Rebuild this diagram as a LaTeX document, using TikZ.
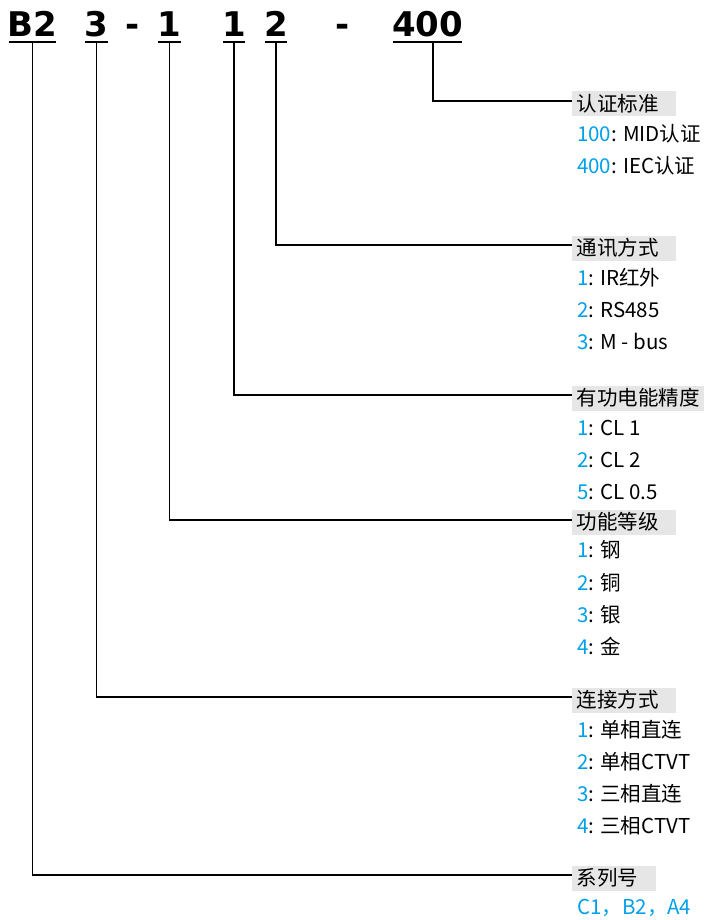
\documentclass[tikz,border=0pt]{standalone}
\usepackage{fontspec}
\newfontfamily\cjk{Noto Sans CJK SC}
\newfontfamily\codefont{DejaVu Sans}
\definecolor{numBlue}{HTML}{00A0E9}
\definecolor{hdrGray}{HTML}{E6E6E6}
\usetikzlibrary{positioning}
\newcommand{\codenum}[1]{\textcolor{numBlue}{#1}}

\begin{document}
\begin{tikzpicture}[x=1pt, y=-1pt,
  node distance=11.7pt,
  code/.style={font=\codefont\bfseries\fontsize{34}{40}\selectfont, anchor=base,
    inner xsep=-1pt, inner ysep=5pt, text depth=0pt},
  hdr/.style={fill=hdrGray, anchor=west, text width=#1, align=left,
    inner xsep=4.5pt, inner ysep=4pt, text height=16pt, text depth=1pt,
    font=\cjk\fontsize{20.5}{24}\selectfont},
  hdr/.default=95pt,
  item/.style={anchor=north west, inner xsep=5pt, inner ysep=0pt,
    text height=17pt, text depth=3pt, font=\cjk\fontsize{20.5}{24}\selectfont},
  link/.style={line width=1.4pt}]
  \useasboundingbox (0,0) rectangle (710,920);
  % type code
  \node[code] (cB2) at (32.5,37) {B2};
  \node[code] (c3) at (96.5,37) {3};
  \node[code] (d1) at (133,37) {-};
  \node[code] (c1a) at (169.5,37) {1};
  \node[code] (c1b) at (234,37) {1};
  \node[code] (c2) at (276,37) {2};
  \node[code] (d2) at (343,37) {-};
  \node[code] (c400) at (427.5,37) {400};
  \foreach \n in {cB2,c3,c1a,c1b,c2,c400}
    \draw[link] (\n.south west) -- (\n.south east);
  % legend
  \node[hdr] (hStd) at (572,104) {认证标准};
  \node[below=7.5pt of hStd.south west, item] (s1) {\codenum{100}: MID认证};
  \node[below=of s1.south west, item] (s2) {\codenum{400}: IEC认证};
  \node[hdr] (hCom) at (572,248) {通讯方式};
  \node[below=7.5pt of hCom.south west, item] (m1) {\codenum{1}: IR红外};
  \node[below=of m1.south west, item] (m2) {\codenum{2}: RS485};
  \node[below=of m2.south west, item] (m3) {\codenum{3}: M - bus};
  \node[hdr=123pt] (hAcc) at (572,398) {有功电能精度};
  \node[below=7.5pt of hAcc.south west, item] (a1) {\codenum{1}: CL 1};
  \node[below=of a1.south west, item] (a2) {\codenum{2}: CL 2};
  \node[below=of a2.south west, item] (a3) {\codenum{5}: CL 0.5};
  \node[hdr] (hFun) at (572,522) {功能等级};
  \node[below=6pt of hFun.south west, item] (f1) {\codenum{1}: 钢};
  \node[below=of f1.south west, item] (f2) {\codenum{2}: 铜};
  \node[below=of f2.south west, item] (f3) {\codenum{3}: 银};
  \node[below=of f3.south west, item] (f4) {\codenum{4}: 金};
  \node[hdr] (hCon) at (572,700) {连接方式};
  \node[below=7.5pt of hCon.south west, item] (k1) {\codenum{1}: 单相直连};
  \node[below=of k1.south west, item] (k2) {\codenum{2}: 单相CTVT};
  \node[below=of k2.south west, item] (k3) {\codenum{3}: 三相直连};
  \node[below=of k3.south west, item] (k4) {\codenum{4}: 三相CTVT};
  \node[hdr=75pt] (hSer) at (572,878) {系列号};
  \node[below=7pt of hSer.south west, item] (r1) {\codenum{C1，B2，A4}};
  % leaders
  \draw[link] ([xshift=5.5pt]c400.south) |- ([yshift=3pt]hStd.west);
  \draw[link] (c2.south) |- ([yshift=3pt]hCom.west);
  \draw[link] (c1b.south) |- ([yshift=3pt]hAcc.west);
  \draw[link] (c1a.south) |- ([yshift=2pt]hFun.west);
  \draw[link] (c3.south) |- ([yshift=3pt]hCon.west);
  \draw[link] (cB2.south) |- ([yshift=3pt]hSer.west);
\end{tikzpicture}
\end{document}
